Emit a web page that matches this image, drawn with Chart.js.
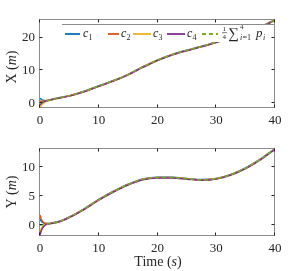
<!DOCTYPE html>
<html>
<head>
<meta charset="utf-8">
<script src="https://cdn.jsdelivr.net/npm/chart.js@4.4.1/dist/chart.umd.min.js"></script>
<style>
  html, body { margin: 0; padding: 0; background: #fff; }
  #wrap { position: relative; width: 305px; height: 271px; }
  #topChart { position: absolute; left: 0; top: 0; }
  #botChart { position: absolute; left: 0; top: 135px; }
</style>
</head>
<body>
<div id="wrap">
  <canvas id="topChart" width="305" height="135"></canvas>
  <canvas id="botChart" width="305" height="136"></canvas>
</div>
<script>
// time samples (s)
const times = [0, 0.25, 0.5, 1, 1.5, 2, 3, 4, 5, 7.5, 10, 12.5, 15, 17.5, 20, 22.5, 25, 27.5, 30, 32.5, 35, 37.5, 40];

// X position (m)
const xC1 = [1.5, 1.1, 0.85, 0.72, 0.85, 1.1, 1.55, 1.9, 2.28, 3.6, 5.3, 6.9, 8.8, 11.1, 13.2, 14.9, 16.2, 17.4, 18.7, 20.0, 21.5, 23.3, 25.5];
const xC2 = [0.6, 0.55, 0.6, 0.74, 0.88, 1.1, 1.5, 1.86, 2.22, 3.52, 5.22, 6.82, 8.72, 11.02, 13.12, 14.82, 16.12, 17.32, 18.62, 19.92, 21.42, 23.22, 25.42];
const xC3 = [-1.5, -0.65, -0.1, 0.5, 0.8, 1.05, 1.48, 1.83, 2.18, 3.48, 5.18, 6.78, 8.68, 10.98, 13.08, 14.78, 16.08, 17.28, 18.58, 19.88, 21.38, 23.18, 25.38];
const xC4 = [-0.6, -0.05, 0.25, 0.62, 0.87, 1.05, 1.44, 1.79, 2.13, 3.42, 5.12, 6.72, 8.62, 10.92, 13.02, 14.72, 16.02, 17.22, 18.52, 19.82, 21.32, 23.12, 25.32];
const xMean = [0, 0.24, 0.4, 0.65, 0.85, 1.08, 1.49, 1.85, 2.2, 3.5, 5.2, 6.8, 8.7, 11.0, 13.1, 14.8, 16.1, 17.3, 18.6, 19.9, 21.4, 23.2, 25.4];

// Y position (m)
const yC1 = [1.1, 0.7, 0.5, 0.32, 0.32, 0.44, 0.65, 1.0, 1.45, 2.86, 4.46, 5.86, 7.06, 7.96, 8.26, 8.26, 8.06, 7.86, 8.06, 8.76, 9.86, 11.36, 13.16];
const yC2 = [1.8, 1.0, 0.6, 0.36, 0.33, 0.41, 0.61, 0.96, 1.41, 2.81, 4.41, 5.81, 7.01, 7.91, 8.21, 8.21, 8.01, 7.81, 8.01, 8.71, 9.81, 11.31, 13.11];
const yC3 = [-1.2, -0.5, -0.15, 0.17, 0.28, 0.39, 0.59, 0.94, 1.39, 2.79, 4.39, 5.79, 6.99, 7.89, 8.19, 8.19, 7.99, 7.79, 7.99, 8.69, 9.79, 11.29, 13.09];
const yC4 = [-1.7, -0.8, -0.35, 0.15, 0.27, 0.36, 0.55, 0.9, 1.35, 2.74, 4.34, 5.74, 6.94, 7.84, 8.14, 8.14, 7.94, 7.74, 7.94, 8.64, 9.74, 11.24, 13.04];
const yMean = [0, 0.1, 0.15, 0.25, 0.3, 0.4, 0.6, 0.95, 1.4, 2.8, 4.4, 5.8, 7.0, 7.9, 8.2, 8.2, 8.0, 7.8, 8.0, 8.7, 9.8, 11.3, 13.1];

const timeTicks = [0, 10, 20, 30, 40];
const xTicks = [0, 10, 20];
const yTicks = [0, 5, 10];

const SERIF = "'Liberation Serif', 'DejaVu Serif', serif";
const colors = ["#0072BD", "#D95319", "#EDB120", "#7E2F8E", "#77AC30"];

function pts(vals) {
  return times.map((t, i) => ({ x: t, y: vals[i] }));
}

// later series on top, like the original plot
function makeSets(series) {
  return series.map((vals, i) => ({
    data: pts(vals),
    borderColor: colors[i],
    borderWidth: 1.5,
    borderDash: i === 4 ? [4, 3] : [],
    pointRadius: 0,
    cubicInterpolationMode: "monotone",
    fill: false,
    order: series.length - i,
  }));
}

// draw a row of text pieces with different fonts, centred on x
function richText(ctx, cx, cy, parts) {
  let w = 0;
  parts.forEach((p) => { ctx.font = p.f; w += ctx.measureText(p.t).width; });
  let x = cx - w / 2;
  ctx.textAlign = "left";
  ctx.textBaseline = "middle";
  parts.forEach((p) => {
    ctx.font = p.f;
    ctx.fillText(p.t, x, cy);
    x += ctx.measureText(p.t).width;
  });
}

function drawBox(chart) {
  const { ctx, chartArea: a } = chart;
  const sx = chart.scales.x, sy = chart.scales.y;
  ctx.save();
  ctx.strokeStyle = "#8c8c8c";
  ctx.lineWidth = 1;
  const l = Math.round(a.left) - 0.5, r = Math.round(a.right) - 0.5;
  const t = Math.round(a.top) - 0.5, b = Math.round(a.bottom) - 0.5;
  ctx.strokeRect(l, t, r - l, b - t);
  ctx.strokeStyle = "#262626";
  ctx.beginPath();
  sx.ticks.forEach((tk) => {
    const px = Math.round(sx.getPixelForValue(tk.value)) - 0.5;
    ctx.moveTo(px, b); ctx.lineTo(px, b - 3);
    ctx.moveTo(px, t); ctx.lineTo(px, t + 3);
  });
  sy.ticks.forEach((tk) => {
    const py = Math.round(sy.getPixelForValue(tk.value)) - 0.5;
    ctx.moveTo(l, py); ctx.lineTo(l + 3, py);
    ctx.moveTo(r, py); ctx.lineTo(r - 3, py);
  });
  ctx.stroke();
  ctx.restore();
}

function drawLegend(ctx) {
  ctx.save();
  ctx.fillStyle = "#fff";
  ctx.fillRect(62, 25, 213, 17);
  ctx.strokeStyle = "#8c8c8c";
  ctx.lineWidth = 1;
  ctx.beginPath();
  ctx.moveTo(62, 24.5); ctx.lineTo(275, 24.5);
  ctx.stroke();

  const items = [
    { x0: 65, x1: 80, tx: 83, n: "1" },
    { x0: 108, x1: 119, tx: 121, n: "2" },
    { x0: 133, x1: 151, tx: 153, n: "3" },
    { x0: 167, x1: 185, tx: 187, n: "4" },
  ];
  const ly = 34;
  ctx.lineWidth = 1.8;
  items.forEach((it, i) => {
    ctx.strokeStyle = colors[i];
    ctx.setLineDash([]);
    ctx.beginPath(); ctx.moveTo(it.x0, ly); ctx.lineTo(it.x1, ly); ctx.stroke();
    ctx.fillStyle = "#262626";
    ctx.textAlign = "left";
    ctx.textBaseline = "alphabetic";
    ctx.font = "italic 12px " + SERIF;
    ctx.fillText("c", it.tx, 37);
    ctx.font = "8px " + SERIF;
    ctx.fillText(it.n, it.tx + 5.5, 39.5);
  });
  ctx.strokeStyle = colors[4];
  ctx.setLineDash([4, 3]);
  ctx.beginPath(); ctx.moveTo(202, ly); ctx.lineTo(218, ly); ctx.stroke();
  ctx.setLineDash([]);

  ctx.fillStyle = "#262626";
  ctx.font = "7px " + SERIF;
  ctx.fillText("1", 222.5, 31);
  ctx.fillText("4", 222.5, 39);
  ctx.fillRect(222, 32.5, 5, 0.6);
  ctx.font = "15px " + SERIF;
  ctx.fillText("\u2211", 228, 38);
  ctx.font = "7px " + SERIF;
  ctx.fillText("4", 240, 29);
  ctx.font = "italic 8px " + SERIF;
  ctx.fillText("i", 240, 40);
  ctx.font = "8px " + SERIF;
  ctx.fillText("=1", 242.5, 40);
  ctx.font = "italic 13px " + SERIF;
  ctx.fillText("p", 256, 37);
  ctx.font = "italic 8px " + SERIF;
  ctx.fillText("i", 263, 39.5);
  ctx.restore();
}

function yTitle(ctx, letter, cy) {
  ctx.save();
  ctx.translate(12, cy);
  ctx.rotate(-Math.PI / 2);
  ctx.fillStyle = "#262626";
  richText(ctx, 0, 0, [
    { t: letter + " (", f: "14px " + SERIF },
    { t: "m", f: "italic 14px " + SERIF },
    { t: ")", f: "14px " + SERIF },
  ]);
  ctx.restore();
}

function makeChart(id, series, yMin, yMax, yVals, opts) {
  const deco = {
    id: "deco" + id,
    afterDraw(chart) {
      const ctx = chart.ctx;
      if (opts.legend) drawLegend(ctx);
      drawBox(chart);
      yTitle(ctx, opts.letter, opts.titleY);
      if (opts.timeTitle) {
        ctx.save();
        ctx.fillStyle = "#262626";
        richText(ctx, 158, 127, [
          { t: "Time (", f: "14px " + SERIF },
          { t: "s", f: "italic 14px " + SERIF },
          { t: ")", f: "14px " + SERIF },
        ]);
        ctx.restore();
      }
    },
  };

  return new Chart(document.getElementById(id).getContext("2d"), {
    type: "line",
    data: { datasets: makeSets(series) },
    options: {
      responsive: false,
      animation: false,
      devicePixelRatio: 1,
      layout: { padding: { top: opts.top, right: 30, left: 0, bottom: 0 } },
      plugins: { legend: { display: false }, tooltip: { enabled: false } },
      scales: {
        x: {
          type: "linear",
          min: 0,
          max: 40,
          afterBuildTicks: (s) => { s.ticks = timeTicks.map((v) => ({ value: v })); },
          afterFit: (s) => { s.height = opts.xH; },
          grid: { display: false, drawTicks: false },
          border: { display: false },
          ticks: { color: "#262626", padding: 5, maxRotation: 0, font: { family: SERIF, size: 13 } },
        },
        y: {
          min: yMin,
          max: yMax,
          afterBuildTicks: (s) => { s.ticks = yVals.map((v) => ({ value: v })); },
          afterFit: (s) => { s.width = 40; },
          grid: { display: false, drawTicks: false },
          border: { display: false },
          ticks: { color: "#262626", padding: 5, font: { family: SERIF, size: 13 } },
        },
      },
    },
    plugins: [deco],
  });
}

makeChart("topChart", [xC1, xC2, xC3, xC4, xMean], -1.5, 25.4, xTicks,
  { top: 20, xH: 27, legend: true, letter: "X", titleY: 67 });
makeChart("botChart", [yC1, yC2, yC3, yC4, yMean], -1.8, 13.1, yTicks,
  { top: 14, xH: 35, legend: false, letter: "Y", titleY: 57, timeTitle: true });
</script>
</body>
</html>
